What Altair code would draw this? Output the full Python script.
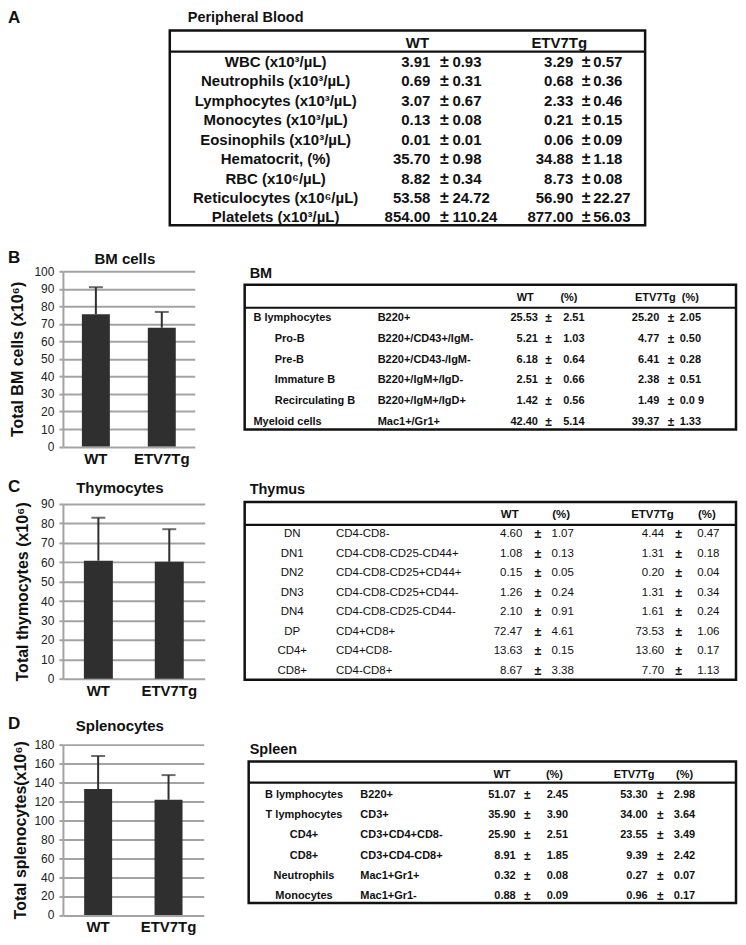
import altair as alt
import pandas as pd

FONT = "Liberation Sans"
INK = "#111111"
BAR = "#2f2f2f"
GRID = "#a3a3a3"

# ---------------- data ----------------
panel_letters = ["A", "B", "C", "D"]
groups = ["WT", "ETV7Tg"]

bar_titles = ["BM cells", "Thymocytes", "Splenocytes"]
bar_axis_titles = ["Total BM cells (x10⁶)", "Total thymocytes (x10⁶)", "Total splenocytes(x10⁶)"]
bm_cells_mean = [75.5, 67.8]
bm_cells_sd = [15.4, 9.0]
thy_cells_mean = [60.8, 60.2]
thy_cells_sd = [22.1, 16.8]
spl_cells_mean = [133.0, 121.7]
spl_cells_sd = [35.0, 26.1]
bm_ticks = [0, 10, 20, 30, 40, 50, 60, 70, 80, 90, 100]
thy_ticks = [0, 10, 20, 30, 40, 50, 60, 70, 80, 90]
spl_ticks = [0, 20, 40, 60, 80, 100, 120, 140, 160, 180]

table_titles = ["Peripheral Blood", "BM", "Thymus", "Spleen"]
pb_headers = ["WT", "ETV7Tg"]
tbl_headers = ["WT", "(%)", "ETV7Tg", "(%)"]

pb_labels = ["WBC (x10³/µL)", "Neutrophils (x10³/µL)", "Lymphocytes (x10³/µL)",
             "Monocytes (x10³/µL)", "Eosinophils (x10³/µL)", "Hematocrit, (%)",
             "RBC (x10⁶/µL)", "Reticulocytes (x10⁶/µL)", "Platelets (x10³/µL)"]
pb_wt_mean = ["3.91", "0.69", "3.07", "0.13", "0.01", "35.70", "8.82", "53.58", "854.00"]
pb_wt_sd = ["0.93", "0.31", "0.67", "0.08", "0.01", "0.98", "0.34", "24.72", "110.24"]
pb_etv_mean = ["3.29", "0.68", "2.33", "0.21", "0.06", "34.88", "8.73", "56.90", "877.00"]
pb_etv_sd = ["0.57", "0.36", "0.46", "0.15", "0.09", "1.18", "0.08", "22.27", "56.03"]

bm_labels = ["B lymphocytes", "Pro-B", "Pre-B", "Immature B", "Recirculating B", "Myeloid cells"]
bm_indent = [False, True, True, True, True, False]
bm_pheno = ["B220+", "B220+/CD43+/IgM-", "B220+/CD43-/IgM-", "B220+/IgM+/IgD-",
            "B220+/IgM+/IgD+", "Mac1+/Gr1+"]
bm_wt_mean = ["25.53", "5.21", "6.18", "2.51", "1.42", "42.40"]
bm_wt_sd = ["2.51", "1.03", "0.64", "0.66", "0.56", "5.14"]
bm_etv_mean = ["25.20", "4.77", "6.41", "2.38", "1.49", "39.37"]
bm_etv_sd = ["2.05", "0.50", "0.28", "0.51", "0.0 9", "1.33"]

thy_labels = ["DN", "DN1", "DN2", "DN3", "DN4", "DP", "CD4+", "CD8+"]
thy_pheno = ["CD4-CD8-", "CD4-CD8-CD25-CD44+", "CD4-CD8-CD25+CD44+", "CD4-CD8-CD25+CD44-",
             "CD4-CD8-CD25-CD44-", "CD4+CD8+", "CD4+CD8-", "CD4-CD8+"]
thy_wt_mean = ["4.60", "1.08", "0.15", "1.26", "2.10", "72.47", "13.63", "8.67"]
thy_wt_sd = ["1.07", "0.13", "0.05", "0.24", "0.91", "4.61", "0.15", "3.38"]
thy_etv_mean = ["4.44", "1.31", "0.20", "1.31", "1.61", "73.53", "13.60", "7.70"]
thy_etv_sd = ["0.47", "0.18", "0.04", "0.34", "0.24", "1.06", "0.17", "1.13"]

spl_labels = ["B lymphocytes", "T lymphocytes", "CD4+", "CD8+", "Neutrophils", "Monocytes"]
spl_pheno = ["B220+", "CD3+", "CD3+CD4+CD8-", "CD3+CD4-CD8+", "Mac1+Gr1+", "Mac1+Gr1-"]
spl_wt_mean = ["51.07", "35.90", "25.90", "8.91", "0.32", "0.88"]
spl_wt_sd = ["2.45", "3.90", "2.51", "1.85", "0.08", "0.09"]
spl_etv_mean = ["53.30", "34.00", "23.55", "9.39", "0.27", "0.96"]
spl_etv_sd = ["2.98", "3.64", "3.49", "2.42", "0.07", "0.17"]


# ---------------- builders ----------------
def rows_frame(**cols):
    n = len(next(iter(cols.values())))
    d = {"row": [f"r{i}" for i in range(n)]}
    d.update(cols)
    return pd.DataFrame(d)


def build_table(df, title, headers, columns, left, top, width, height, ref_width,
                row_first, row_last, hline, size, weight, title_dx, title_dy):
    sx = width / ref_width
    domain = ["hdr"] + list(df["row"])
    yscale = alt.Scale(type="point", domain=domain,
                       range=[top + row_first, top + row_last], padding=0)
    y = alt.Y("row:N", scale=yscale, axis=None)
    one = pd.DataFrame({"row": ["hdr"], "title": [title]})
    layers = [
        alt.Chart(one).mark_rect(fill="transparent", stroke=INK, strokeWidth=2.5).encode(
            x=alt.value(left), x2=alt.value(left + width),
            y=alt.value(top), y2=alt.value(top + height)),
        alt.Chart(one).mark_rule(color=INK, strokeWidth=2.2).encode(
            x=alt.value(left), x2=alt.value(left + width), y=alt.value(top + hline)),
        alt.Chart(one).mark_text(font=FONT, fontSize=14.5, fontWeight="bold", align="left",
                                 baseline="middle", color=INK).encode(
            x=alt.value(left + title_dx), y=alt.value(top + title_dy), text="title:N"),
    ]
    for text, xr in headers:
        layers.append(
            alt.Chart(one).mark_text(font=FONT, fontSize=size, fontWeight="bold", align="center",
                                     baseline="middle", color=INK, text=text).encode(
                x=alt.value(left + xr * sx), y=y))
    for field, xr, align in columns:
        if field == "±":
            mk = alt.Chart(df).mark_text(font=FONT, fontSize=size + 1, fontWeight="bold",
                                         align=align, baseline="middle", color=INK, text="±")
            layers.append(mk.encode(x=alt.value(left + xr * sx), y=y))
        else:
            mk = alt.Chart(df).mark_text(font=FONT, fontSize=size, fontWeight=weight,
                                         align=align, baseline="middle", color=INK)
            layers.append(mk.encode(x=alt.value(left + xr * sx), y=y, text=f"{field}:N"))
    return alt.layer(*layers)


def build_bars(means, sds, ticks, height, bar_w, axis_title, title_x):
    df = pd.DataFrame({"group": groups, "mean": means, "sd": sds})
    base = alt.Chart(df).transform_calculate(top="datum.mean + datum.sd")
    xs = alt.Scale(domain=groups, paddingInner=0, paddingOuter=0)
    xaxis = alt.Axis(title=None, labelAngle=0, labelFont=FONT, labelFontSize=15,
                     labelFontWeight="bold", labelColor=INK, ticks=False, domain=False,
                     labelPadding=5, grid=False)
    ys = alt.Scale(domain=[ticks[0], ticks[-1]], nice=False, zero=True)
    yaxis = alt.Axis(title=axis_title, values=ticks, grid=True, gridColor=GRID, gridWidth=2,
                     domainColor=GRID, domainWidth=2, tickColor=GRID, tickWidth=2, tickSize=4,
                     labelFont=FONT, labelFontSize=12, labelColor="#222222", labelPadding=5,
                     titleFont=FONT, titleFontSize=16, titleFontWeight="bold", titleColor=INK,
                     titleAngle=270, titleX=title_x, titleY=height / 2, titleAlign="center",
                     titleBaseline="middle")
    x = alt.X("group:N", scale=xs, axis=xaxis)
    bars = base.mark_bar(color=BAR, size=bar_w).encode(
        x=x, y=alt.Y("mean:Q", scale=ys, axis=yaxis))
    err = base.mark_rule(color=BAR, strokeWidth=2).encode(
        x=x, y=alt.Y("mean:Q", scale=ys, axis=yaxis), y2="top:Q")
    cap = base.mark_tick(color=BAR, thickness=2, size=14).encode(
        x=x, y=alt.Y("top:Q", scale=ys, axis=yaxis))
    return alt.layer(bars, err, cap)


def labels_layer(letter, letter_x, letter_y, title=None, title_x=0, title_y=0):
    one = pd.DataFrame({"letter": [letter], "title": [title or ""]})
    out = [alt.Chart(one).mark_text(font=FONT, fontSize=17, fontWeight="bold", align="left",
                                    baseline="middle", color=INK).encode(
        x=alt.value(letter_x), y=alt.value(letter_y), text="letter:N")]
    if title:
        out.append(alt.Chart(one).mark_text(font=FONT, fontSize=15, fontWeight="bold",
                                            align="center", baseline="middle", color=INK).encode(
            x=alt.value(title_x), y=alt.value(title_y), text="title:N"))
    return out


# ---------------- tables ----------------
pb_df = rows_frame(label=pb_labels, wt_mean=pb_wt_mean, wt_sd=pb_wt_sd,
                   etv_mean=pb_etv_mean, etv_sd=pb_etv_sd)
bm_df = rows_frame(label_main=[l if not i else "" for l, i in zip(bm_labels, bm_indent)],
                   label_sub=[l if i else "" for l, i in zip(bm_labels, bm_indent)],
                   pheno=bm_pheno, wt_mean=bm_wt_mean, wt_sd=bm_wt_sd,
                   etv_mean=bm_etv_mean, etv_sd=bm_etv_sd)
thy_df = rows_frame(label=thy_labels, pheno=thy_pheno, wt_mean=thy_wt_mean, wt_sd=thy_wt_sd,
                    etv_mean=thy_etv_mean, etv_sd=thy_etv_sd)
spl_df = rows_frame(label=spl_labels, pheno=spl_pheno, wt_mean=spl_wt_mean, wt_sd=spl_wt_sd,
                    etv_mean=spl_etv_mean, etv_sd=spl_etv_sd)

# every row shares the same origin (reference x = 55)
tableA = build_table(
    pb_df, table_titles[0], list(zip(pb_headers, [248, 390])),
    [("label", 106, "center"), ("wt_mean", 261, "right"), ("±", 275, "center"),
     ("wt_sd", 283, "left"), ("etv_mean", 404, "right"), ("±", 417, "center"),
     ("etv_sd", 424, "left")],
    left=107, top=0, width=476, height=195, ref_width=476, row_first=12, row_last=187,
    hline=21, size=15, weight="bold", title_dx=18, title_dy=-13)

tableB = build_table(
    bm_df, table_titles[1], list(zip(tbl_headers, [289, 334, 423, 459])),
    [("label_main", 9, "left"), ("label_sub", 31, "left"), ("pheno", 137, "left"),
     ("wt_mean", 302, "right"), ("±", 313, "center"), ("wt_sd", 328, "left"),
     ("etv_mean", 427, "right"), ("±", 439, "center"), ("etv_sd", 448, "left")],
    left=182, top=13.5, width=492, height=145, ref_width=506, row_first=13, row_last=137,
    hline=23, size=11, weight="bold", title_dx=5, title_dy=-11)

tableC = build_table(
    thy_df, table_titles[2], list(zip(tbl_headers, [273, 326, 420, 476])),
    [("label", 49, "center"), ("pheno", 94, "left"), ("wt_mean", 286, "right"),
     ("±", 302, "center"), ("wt_sd", 316, "left"), ("etv_mean", 432, "right"),
     ("±", 447, "center"), ("etv_sd", 466, "left")],
    left=182, top=-2, width=492, height=178, ref_width=506, row_first=13, row_last=169,
    hline=23, size=11.5, weight="normal", title_dx=5, title_dy=-12)

tableD = build_table(
    spl_df, table_titles[3], list(zip(tbl_headers, [261, 315, 397, 449])),
    [("label", 57, "center"), ("pheno", 115, "left"), ("wt_mean", 275, "right"),
     ("±", 287, "center"), ("wt_sd", 307, "left"), ("etv_mean", 411, "right"),
     ("±", 424, "center"), ("etv_sd", 438, "left")],
    left=186, top=17, width=488, height=141.5, ref_width=502, row_first=13, row_last=135,
    hline=21, size=11, weight="bold", title_dx=1, title_dy=-12)

# ---------------- rows ----------------
rowA = alt.layer(tableA, *labels_layer(panel_letters[0], -55, -13)).properties(
    width=583, height=195)

barsB = build_bars(bm_cells_mean, bm_cells_sd, bm_ticks, 175.5, 28, bar_axis_titles[0], -45)
rowB = alt.layer(barsB, tableB, *labels_layer(panel_letters[1], -55, -13, bar_titles[0], 62, -12)
                 ).resolve_scale(x="independent", y="independent").properties(width=132, height=175.5)

barsC = build_bars(thy_cells_mean, thy_cells_sd, thy_ticks, 175, 29, bar_axis_titles[1], -40)
rowC = alt.layer(barsC, tableC, *labels_layer(panel_letters[2], -55, -17, bar_titles[1], 57, -16)
                 ).resolve_scale(x="independent", y="independent").properties(width=142, height=175)

barsD = build_bars(spl_cells_mean, spl_cells_sd, spl_ticks, 170.5, 28, bar_axis_titles[2], -42)
rowD = alt.layer(barsD, tableD, *labels_layer(panel_letters[3], -55, -21, bar_titles[2], 57, -19)
                 ).resolve_scale(x="independent", y="independent").properties(width=141, height=170.5)

chart = alt.vconcat(
    rowA,
    alt.vconcat(rowB, alt.vconcat(rowC, rowD, spacing=16), spacing=11),
    spacing=22,
).properties(padding=0).configure_view(strokeWidth=0)

chart.save("out.html", embed_options={"renderer": "svg", "actions": False})
